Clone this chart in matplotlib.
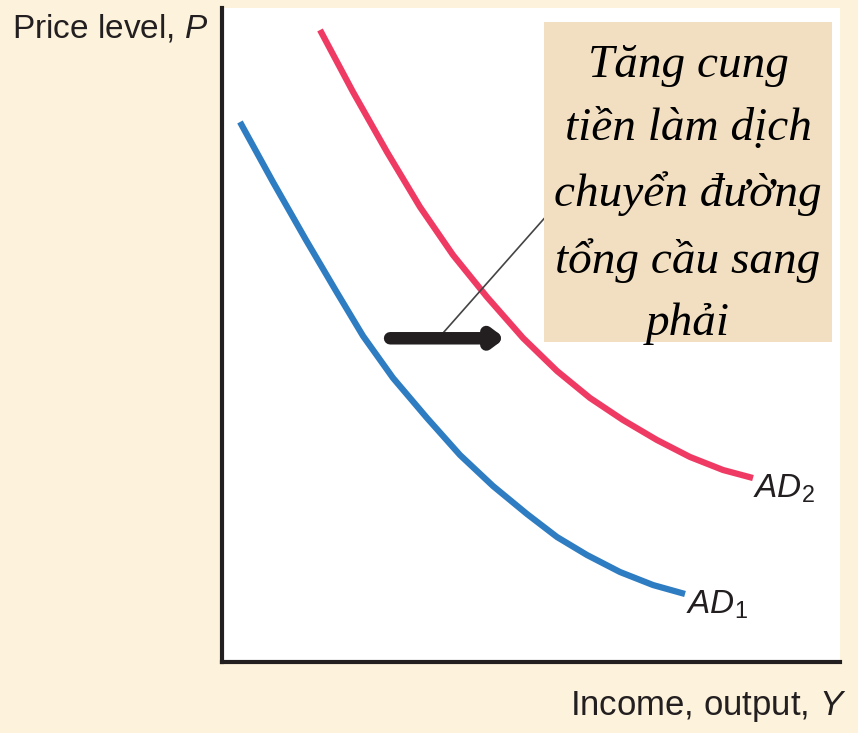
import matplotlib
matplotlib.use("Agg")
import matplotlib.pyplot as plt

plt.rcParams["mathtext.fontset"] = "custom"
plt.rcParams["mathtext.rm"] = "Liberation Sans"
plt.rcParams["mathtext.it"] = "Liberation Sans:italic"

# Data (arbitrary units, axes span 0..100)
ad1_x = [2.91, 8.25, 13.59, 18.45, 22.82, 27.67, 33.17, 38.51, 43.85, 49.35, 54.21, 59.06, 64.40, 69.74, 74.92]
ad1_y = [82.57, 73.39, 64.53, 56.73, 49.85, 43.43, 37.31, 31.65, 26.91, 22.63, 19.11, 16.36, 13.76, 11.77, 10.40]
ad2_x = [15.86, 21.20, 26.70, 32.04, 37.38, 42.88, 48.71, 54.21, 59.55, 64.89, 70.39, 75.73, 81.07, 85.92]
ad2_y = [96.64, 87.16, 77.98, 69.57, 62.23, 55.81, 49.54, 44.50, 40.37, 37.00, 33.94, 31.35, 29.36, 28.13]

box_text = "Tăng cung\ntiền làm dịch\nchuyển đường\ntổng cầu sang\nphải"
xlabel = r"Income, output, $Y$"
ylabel = r"Price level, $P$"
label_ad1 = r"$AD_1$"
label_ad2 = r"$AD_2$"

W, H = 858, 733
bg = "#fdf3dc"
fig = plt.figure(figsize=(W / 100, H / 100), dpi=100, facecolor=bg)
left_px, right_px, top_px, bottom_px = 222, 840, 8, 662
ax = fig.add_axes([left_px / W, (H - bottom_px) / H, (right_px - left_px) / W, (bottom_px - top_px) / H])
ax.set_facecolor("white")
ax.set_xlim(0, 100)
ax.set_ylim(0, 100)
for s in ["top", "right"]:
    ax.spines[s].set_visible(False)
for s in ["left", "bottom"]:
    ax.spines[s].set_color("#231f20")
    ax.spines[s].set_linewidth(3)
ax.set_xticks([])
ax.set_yticks([])

ax.plot(ad1_x, ad1_y, color="#2e7cc1", lw=4.5, solid_capstyle="butt", solid_joinstyle="round")
ax.plot(ad2_x, ad2_y, color="#ef3b64", lw=4.5, solid_capstyle="butt", solid_joinstyle="round")

# Leader line
ax.plot([35.76, 52.3], [50.3, 68.0], color="#444444", lw=1.2)
# Shift arrow
ax.annotate("", xy=(45.8, 49.5), xytext=(27.2, 49.5),
            arrowprops=dict(arrowstyle="-|>,head_length=0.6,head_width=0.45",
                            color="#231f20", lw=9, shrinkA=0, shrinkB=0))

# Text box
ax.add_patch(plt.Rectangle((52.1, 48.9), 46.6, 49.0, facecolor="#f2dfc2",
                           edgecolor="none", zorder=3))
ax.text(75.4, 71.4, box_text,
        ha="center", va="center", fontsize=34, style="italic",
        family=["Liberation Serif", "DejaVu Serif"], linespacing=1.62, zorder=4)

# AD labels
ax.text(85.9, 24.0, label_ad2, fontsize=24, color="#231f20", va="bottom")
ax.text(75.0, 6.2, label_ad1, fontsize=24, color="#231f20", va="bottom")

# Axis labels
fig.text(12 / W, 1 - 29 / H, ylabel, fontsize=24, family="Liberation Sans",
         color="#231f20", va="center", ha="left")
fig.text(846 / W, 1 - 706 / H, xlabel, fontsize=25, family="Liberation Sans",
         color="#231f20", va="center", ha="right")

fig.savefig("out.png", dpi=100, facecolor=bg)
